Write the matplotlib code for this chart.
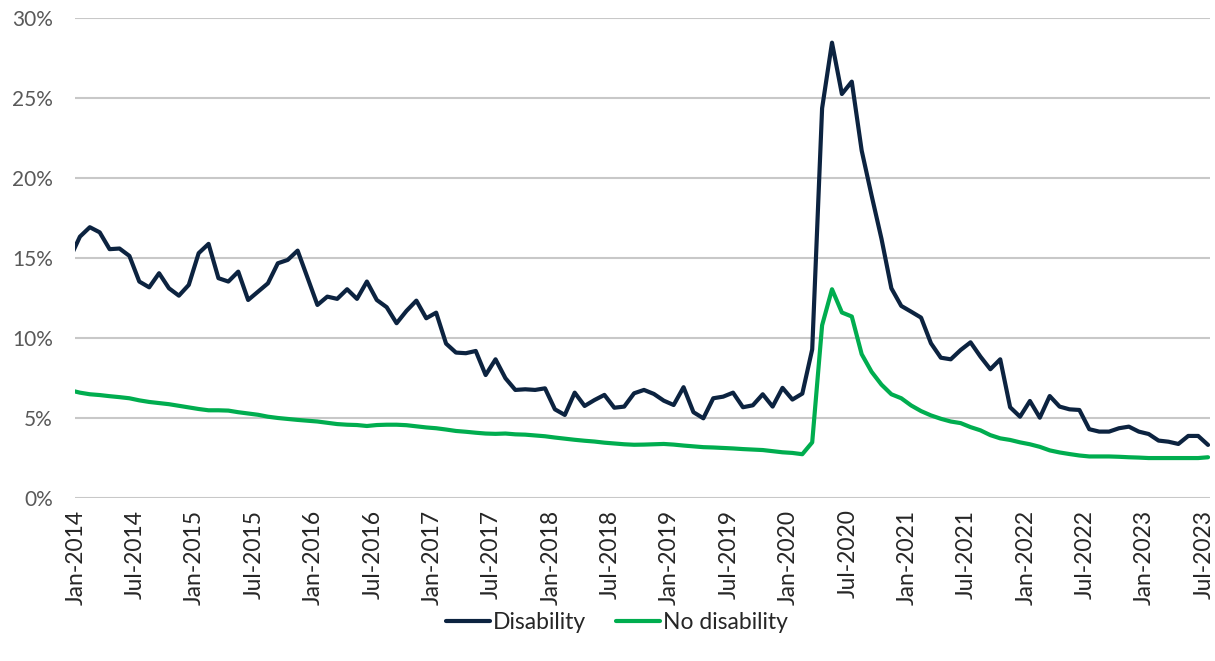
import matplotlib
matplotlib.use("Agg")
import matplotlib.pyplot as plt
from matplotlib.transforms import ScaledTranslation
import pandas as pd

plt.rcParams['font.family'] = ['Lato', 'DejaVu Sans']

# monthly series, Dec-2013 .. Jul-2023 (share of labour force, %)
months = pd.date_range('2013-12-01', '2023-07-01', freq='MS')

disability = [
    15.0,
    16.33, 16.92, 16.6, 15.55, 15.59, 15.13, 13.53, 13.17, 14.05, 13.11, 12.65, 13.32,
    15.3, 15.88, 13.74, 13.53, 14.15, 12.38, 12.9, 13.42, 14.67, 14.88, 15.46, 13.77,
    12.07, 12.59, 12.45, 13.05, 12.45, 13.53, 12.38, 11.93, 10.93, 11.7, 12.34, 11.24,
    11.59, 9.66, 9.1, 9.06, 9.2, 7.7, 8.68, 7.5, 6.77, 6.81, 6.77, 6.87,
    5.56, 5.21, 6.6, 5.77, 6.14, 6.46, 5.66, 5.73, 6.56, 6.77, 6.52, 6.1,
    5.83, 6.94, 5.38, 5.0, 6.25, 6.35, 6.6, 5.69, 5.81, 6.5, 5.73, 6.9,
    6.17, 6.54, 9.3, 24.34, 28.43, 25.23, 26.0, 21.7, 18.9, 16.2, 13.11, 12.01,
    11.65, 11.28, 9.68, 8.78, 8.68, 9.26, 9.74, 8.85, 8.06, 8.68, 5.69, 5.1,
    6.08, 5.04, 6.39, 5.73, 5.56, 5.52, 4.32, 4.17, 4.17, 4.38, 4.48, 4.17,
    4.02, 3.61, 3.54, 3.4, 3.9, 3.9, 3.34,
]

no_disability = [
    6.75,
    6.6, 6.5, 6.45, 6.38, 6.32, 6.25, 6.12, 6.02, 5.95, 5.88, 5.78, 5.68,
    5.58, 5.5, 5.5, 5.48, 5.38, 5.3, 5.22, 5.1, 5.02, 4.96, 4.9, 4.85,
    4.8, 4.72, 4.64, 4.6, 4.58, 4.52, 4.58, 4.6, 4.6, 4.57, 4.5, 4.43,
    4.38, 4.3, 4.21, 4.16, 4.1, 4.05, 4.03, 4.05, 4.0, 3.98, 3.93, 3.88,
    3.8, 3.73, 3.66, 3.6, 3.55, 3.48, 3.43, 3.38, 3.35, 3.36, 3.38, 3.4,
    3.36, 3.3, 3.25, 3.2, 3.18, 3.15, 3.12, 3.08, 3.05, 3.02, 2.95, 2.88,
    2.84, 2.76, 3.5, 10.8, 13.05, 11.6, 11.35, 9.0, 7.9, 7.1, 6.5, 6.25,
    5.8, 5.45, 5.18, 4.97, 4.8, 4.7, 4.45, 4.25, 3.95, 3.75, 3.65, 3.5,
    3.38, 3.22, 3.0, 2.87, 2.77, 2.68, 2.62, 2.62, 2.62, 2.6, 2.57, 2.55,
    2.52, 2.52, 2.52, 2.52, 2.52, 2.52, 2.57,
]

yticks = [0, 5, 10, 15, 20, 25, 30]

# x position: months since Jan-2014 (Dec-2013 sits just off the left edge)
x = list(range(-1, len(months) - 1))
tick_pos = [i for i, m in zip(x, months) if m.month in (1, 7)]
tick_lbl = [m.strftime('%b-%Y') for m in months if m.month in (1, 7)]

fig = plt.figure(figsize=(12.15, 6.61), dpi=100)
ax = fig.add_axes([0.0617, 0.2459, 0.9342, 0.7276])

ax.plot(x, disability, color='#0c2340', lw=3, label='Disability',
        solid_joinstyle='round', solid_capstyle='round')
ax.plot(x, no_disability, color='#00ad4f', lw=3, label='No disability',
        solid_joinstyle='round', solid_capstyle='round')

ax.set_xlim(-0.5, 114.2)
ax.set_ylim(0, 30)
ax.set_yticks(yticks)
ax.set_yticklabels([f'{v}%' for v in yticks], fontsize=15, color='#595959')
ax.set_xticks(tick_pos)
ax.set_xticklabels(tick_lbl, rotation=90, fontsize=16.5, color='#262626')
ax.tick_params(axis='both', length=0)
ax.tick_params(axis='y', pad=16)
ax.tick_params(axis='x', pad=8)

# nudge the rotated month labels a few pixels left
shift = ScaledTranslation(-4 / 100, 0, fig.dpi_scale_trans)
for lbl in ax.get_xticklabels():
    lbl.set_transform(lbl.get_transform() + shift)

ax.grid(axis='y', color='#c8c8c8', lw=1.5)
ax.set_axisbelow(True)
for s in ax.spines.values():
    s.set_visible(False)

fig.legend(loc='center', bbox_to_anchor=(0.508, 0.058), ncol=2, frameon=False,
           fontsize=16.5, handlelength=1.9, handletextpad=0.15, columnspacing=1.3,
           labelcolor='#262626')

fig.savefig('out.png', dpi=100)
